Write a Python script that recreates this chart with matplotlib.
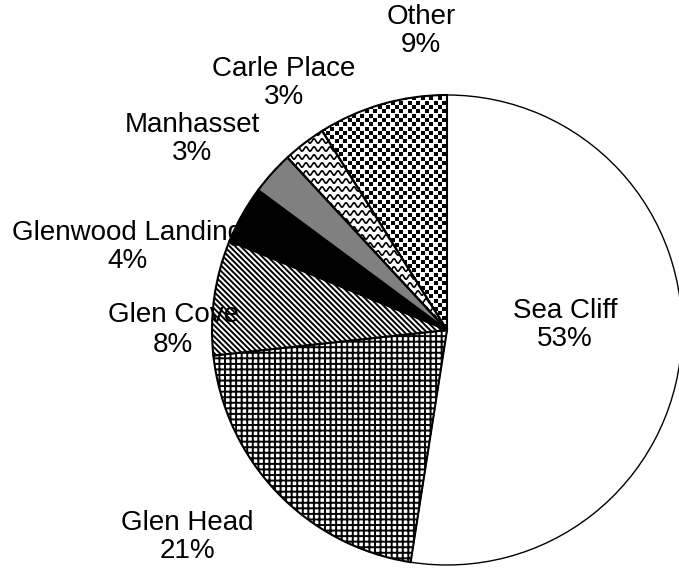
import numpy as np
import matplotlib.pyplot as plt

towns = ["Sea Cliff", "Glen Head", "Glen Cove", "Glenwood Landing",
         "Manhasset", "Carle Place", "Other"]
shares = [53, 21, 8, 4, 3, 3, 9]

plt.rcParams["font.family"] = ["Liberation Sans", "DejaVu Sans"]
plt.rcParams["hatch.linewidth"] = 1.4
plt.rcParams["hatch.color"] = "black"

W, H = 679, 571
fig = plt.figure(figsize=(W / 100, H / 100), dpi=100)
ax = fig.add_axes([0, 0, 1, 1])

cx, cy, r = 447, 241, 235
faces = ["white", "white", "white", "black", "#808080", "none", "none"]
hatches = [None, "+++", "\\" * 6, None, None, None, None]

wedges, _ = ax.pie(shares, startangle=90, counterclock=False,
                   center=(cx, cy), radius=r, frame=True,
                   colors=faces,
                   wedgeprops=dict(edgecolor="black", linewidth=1.5))
ax.set_xlim(0, W)
ax.set_ylim(0, H)
ax.set_aspect("equal")
ax.axis("off")
for w, h in zip(wedges, hatches):
    if h:
        w.set_hatch(h)
    w.set_zorder(3)
wedges[0].set_linewidth(1.0)

# wavy fill for Carle Place
carle = wedges[5]
xs = np.linspace(cx - r, cx + r, 800)
for y0 in np.arange(cy - r, cy + r, 8):
    ln, = ax.plot(xs, y0 + 2.2 * np.sin(xs * 2 * np.pi / 8), color="black",
                  lw=1.2, zorder=2)
    ln.set_clip_path(carle)

# staggered square dots for Other
other = wedges[6]
pts = []
for i, y0 in enumerate(np.arange(cy - 5, cy + r + 5, 4.3)):
    off = (i % 2) * 4.3
    for x0 in np.arange(cx - r, cx + 5, 8.6):
        pts.append((x0 + off, y0))
pts = np.array(pts)
sc = ax.scatter(pts[:, 0], pts[:, 1], s=7, marker="s", color="black",
                linewidths=0, zorder=2)
sc.set_clip_path(other)

# slice labels
label_xy = [(565, 325), (187, 537), (173, 330), (128, 247),
            (192, 139), (284, 83), (421, 31)]
for name, val, (lx, ly) in zip(towns, shares, label_xy):
    ax.text(lx, H - ly, f"{name}\n{val}%", ha="center", va="center",
            fontsize=20, linespacing=1.15, zorder=5)

fig.savefig("out.png", dpi=100)
